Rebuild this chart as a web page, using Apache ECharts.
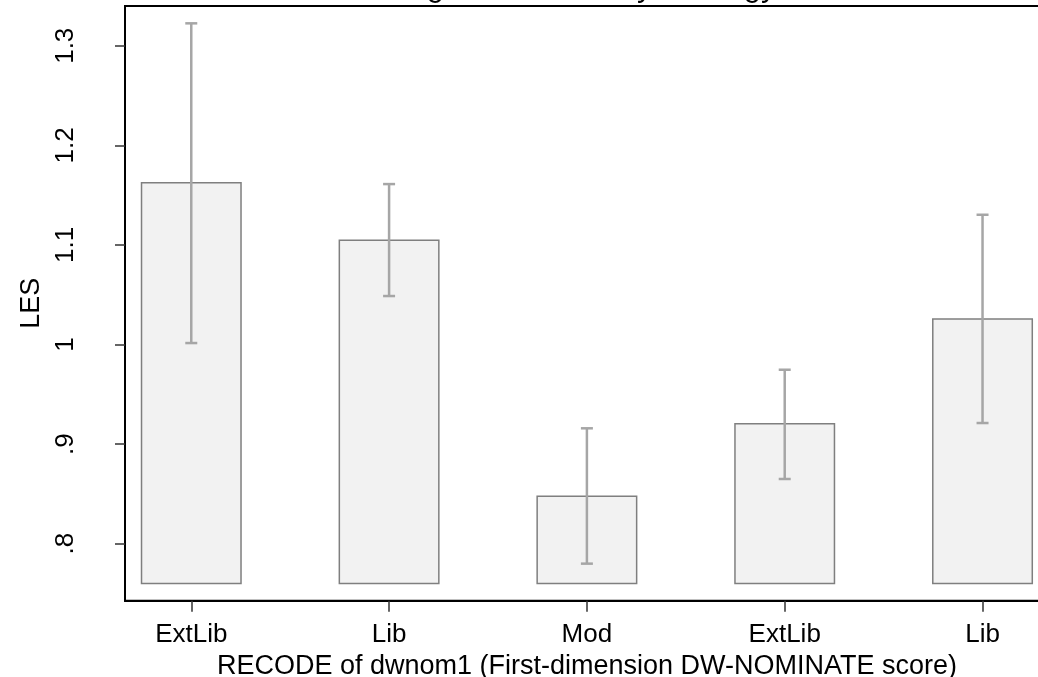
<!DOCTYPE html>
<html><head><meta charset="utf-8">
<script src="https://cdn.jsdelivr.net/npm/echarts@6/dist/echarts.min.js"></script>
<style>html,body{margin:0;padding:0;background:#fff}#c{width:1038px;height:677px}</style>
</head><body><div id="c"></div>
<script>
const categories = ['ExtLib', 'Lib', 'Mod', 'ExtLib', 'Lib'];
const positions = [1, 2, 3, 4, 5];
const means = [1.1625, 1.1046, 0.8476, 0.9205, 1.0256];
const ciLow = [1.0015, 1.0487, 0.780, 0.865, 0.9212];
const ciHigh = [1.3225, 1.1611, 0.9159, 0.9747, 1.1303];
const barBase = 0.76;
const yTickValues = [0.8, 0.9, 1.0, 1.1, 1.2, 1.3];
const yTickLabels = ['.8', '.9', '1', '1.1', '1.2', '1.3'];
const titleText = 'LES among Democrats, by ideology';
const xTitle = 'RECODE of dwnom1 (First-dimension DW-NOMINATE score)';
const yTitle = 'LES';

const barData = positions.map((p, i) => [p, means[i], barBase]);
const errData = positions.map((p, i) => [p, ciLow[i], ciHigh[i]]);
const FONT = 'Liberation Sans, Arial, sans-serif';

const chart = echarts.init(document.getElementById('c'));
chart.setOption({
  animation: false,
  backgroundColor: '#ffffff',
  title: {
    text: titleText, left: 277, top: -33,
    textStyle: { fontFamily: FONT, fontSize: 31, fontWeight: 'normal', color: '#000' }
  },
  grid: { left: 125, right: -11, top: 6, bottom: 76.3, outerBoundsMode: 'none', containLabel: false,
    show: true, borderColor: '#000', borderWidth: 2, backgroundColor: 'transparent' },
  xAxis: {
    type: 'value', min: 0.665, max: 5.336,
    name: xTitle, nameLocation: 'middle', nameGap: 46,
    nameTextStyle: { fontFamily: FONT, fontSize: 27, color: '#000' },
    axisLine: { show: true, lineStyle: { color: '#000', width: 2 } },
    axisTick: { show: true, length: 11, customValues: positions, lineStyle: { color: '#333', width: 1.5 } },
    axisLabel: { customValues: positions, margin: 21, fontFamily: FONT, fontSize: 26, color: '#000',
      formatter: v => categories[Math.round(v) - 1] },
    splitLine: { show: false }
  },
  yAxis: {
    type: 'value', min: 0.7428, max: 1.3399,
    name: yTitle, nameLocation: 'middle', nameGap: 80, nameRotate: 90,
    nameTextStyle: { fontFamily: FONT, fontSize: 27, color: '#000' },
    axisLine: { show: true, lineStyle: { color: '#000', width: 2 } },
    axisTick: { show: true, length: 10, customValues: yTickValues, lineStyle: { color: '#333', width: 1.5 } },
    axisLabel: { customValues: yTickValues, rotate: 90, margin: 46, fontFamily: FONT, fontSize: 26, color: '#000',
      formatter: v => { const i = yTickValues.findIndex(t => Math.abs(t - v) < 1e-6); return i >= 0 ? yTickLabels[i] : ''; } },
    splitLine: { show: false }
  },
  series: [
    {
      type: 'custom', data: barData, encode: { x: 0, y: [1, 2] },
      renderItem: (params, api) => {
        const x = api.value(0);
        const top = api.coord([x, api.value(1)]);
        const bot = api.coord([x, api.value(2)]);
        const w = api.size([0.503, 0])[0];
        return { type: 'rect', shape: { x: top[0] - w / 2, y: top[1], width: w, height: bot[1] - top[1] },
          style: { fill: '#f2f2f2', stroke: '#7f7f7f', lineWidth: 1.5 } };
      }
    },
    {
      type: 'custom', data: errData, encode: { x: 0, y: [1, 2] }, z: 3,
      renderItem: (params, api) => {
        const x = api.value(0);
        const lo = api.coord([x, api.value(1)]);
        const hi = api.coord([x, api.value(2)]);
        const c = 6;
        const st = { stroke: '#a6a6a6', lineWidth: 2.5 };
        return { type: 'group', children: [
          { type: 'line', shape: { x1: lo[0], y1: lo[1], x2: hi[0], y2: hi[1] }, style: st },
          { type: 'line', shape: { x1: lo[0] - c, y1: lo[1], x2: lo[0] + c, y2: lo[1] }, style: st },
          { type: 'line', shape: { x1: hi[0] - c, y1: hi[1], x2: hi[0] + c, y2: hi[1] }, style: st }
        ] };
      }
    }
  ]
});
</script></body></html>
